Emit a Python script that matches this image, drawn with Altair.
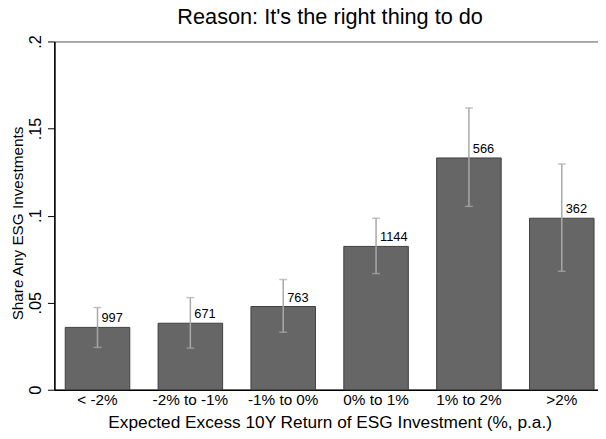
import altair as alt
import pandas as pd

categories = ["< -2%", "-2% to -1%", "-1% to 0%", "0% to 1%", "1% to 2%", ">2%"]
share = [0.0358, 0.0382, 0.0478, 0.0823, 0.1331, 0.0985]
ci_low = [0.0243, 0.0239, 0.0330, 0.0667, 0.1053, 0.0680]
ci_high = [0.0472, 0.0529, 0.0633, 0.0985, 0.1618, 0.1296]
counts = [997, 671, 763, 1144, 566, 362]
y_ticks = [0, 0.05, 0.1, 0.15, 0.2]

df = pd.DataFrame({
    "cat": categories,
    "share": share,
    "lo": ci_low,
    "hi": ci_high,
    "n": [str(c) for c in counts],
})

FONT = "Liberation Sans"

x_enc = alt.X(
    "cat:N",
    sort=categories,
    scale=alt.Scale(range=[0, 558], paddingInner=0.305, paddingOuter=0.117),
    axis=alt.Axis(
        title="Expected Excess 10Y Return of ESG Investment (%, p.a.)",
        labelAngle=0,
        ticks=False,
        tickSize=0,
        labelPadding=15,
        labelBaseline="alphabetic",
        labelFontSize=15.5,
        labelColor="black",
        labelFont=FONT,
        titleFont=FONT,
        titleFontSize=17.5,
        titleFontWeight="normal",
        titleColor="black",
        titleX=279,
        titleY=38,
        titleBaseline="alphabetic",
        titleAlign="center",
        domainColor="black",
        domainWidth=1.5,
    ),
)

y_scale = alt.Scale(domain=[0, 0.2], nice=False, zero=True)
y_axis = alt.Axis(
    title="Share Any ESG Investments",
    values=y_ticks,
    labelExpr="datum.value == 0 ? '0' : substring(format(datum.value, '.2~f'), 1)",
    labelAngle=270,
    labelAlign="center",
    labelBaseline="middle",
    labelPadding=12,
    tickSize=7,
    tickColor="black",
    tickWidth=1,
    labelFontSize=16.5,
    labelColor="black",
    labelFont=FONT,
    grid=False,
    titleFont=FONT,
    titleFontSize=15.5,
    titleFontWeight="normal",
    titleColor="black",
    titleAngle=270,
    titleX=-37,
    titleY=184,
    titleAlign="center",
    titleBaseline="middle",
    domainColor="black",
    domainWidth=1.5,
)

base = alt.Chart(df)

bars = base.mark_bar(color="#666666", stroke="#3f3f3f", strokeWidth=1).encode(
    x=x_enc,
    y=alt.Y("share:Q", scale=y_scale, axis=y_axis),
)

err = base.mark_rule(color="#a9a9a9", strokeWidth=1.5).encode(
    x=alt.X("cat:N", sort=categories),
    y=alt.Y("lo:Q", scale=y_scale),
    y2="hi:Q",
)

cap_lo = base.mark_tick(color="#a9a9a9", size=8, thickness=1.5, orient="horizontal").encode(
    x=alt.X("cat:N", sort=categories),
    y=alt.Y("lo:Q", scale=y_scale),
)
cap_hi = base.mark_tick(color="#a9a9a9", size=8, thickness=1.5, orient="horizontal").encode(
    x=alt.X("cat:N", sort=categories),
    y=alt.Y("hi:Q", scale=y_scale),
)

labels = base.mark_text(
    align="left", baseline="alphabetic", dx=4, dy=-5, fontSize=13, font=FONT, color="black"
).encode(
    x=alt.X("cat:N", sort=categories),
    y=alt.Y("share:Q", scale=y_scale),
    text="n:N",
)

chart = (
    alt.layer(bars, err, cap_lo, cap_hi, labels)
    .properties(
        width=551,
        height=353,
        title=alt.TitleParams(
            "Reason: It's the right thing to do",
            font=FONT,
            fontSize=22,
            fontWeight="normal",
            color="black",
            anchor="middle",
            dx=4,
            dy=15,
            offset=4,
            baseline="alphabetic",
        ),
        autosize=alt.AutoSizeParams(type="none"),
        padding={"left": 47, "top": 31, "right": 0, "bottom": 47},
        background="white",
    )
    .configure_view(stroke="#555555", strokeWidth=1)
)

chart.save("out.html", embed_options={"renderer": "svg", "actions": False})
